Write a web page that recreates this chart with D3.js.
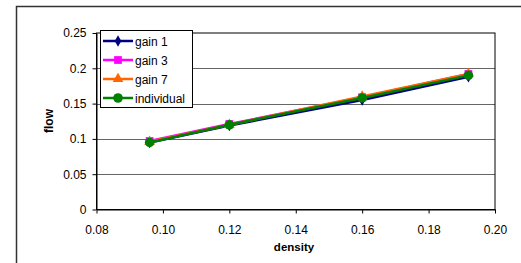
<!DOCTYPE html>
<html>
<head>
<meta charset="utf-8">
<script src="https://cdn.jsdelivr.net/npm/d3@7"></script>
<style>
  body { margin: 0; background: #fff; }
  svg { display: block; font-family: Arial, "Liberation Sans", sans-serif; }
</style>
</head>
<body>
<svg width="521" height="263"></svg>
<script>
// chart values
var density = [0.096, 0.12, 0.16, 0.192];
var gain1 = [0.095, 0.119, 0.155, 0.188];
var gain3 = [0.097, 0.121, 0.159, 0.192];
var gain7 = [0.096, 0.120, 0.160, 0.192];
var individual = [0.095, 0.120, 0.158, 0.190];
var seriesNames = ["gain 1", "gain 3", "gain 7", "individual"];
var xTicks = [0.08, 0.10, 0.12, 0.14, 0.16, 0.18, 0.20];
var yTicks = [0, 0.05, 0.1, 0.15, 0.2, 0.25];

var series = [
  { name: seriesNames[0], values: gain1, color: "#000080", symbol: d3.symbolDiamond, size: 38 },
  { name: seriesNames[1], values: gain3, color: "#FF00FF", symbol: d3.symbolSquare, size: 60 },
  { name: seriesNames[2], values: gain7, color: "#FF6600", symbol: d3.symbolTriangle, size: 50 },
  { name: seriesNames[3], values: individual, color: "#008000", symbol: d3.symbolCircle, size: 72 }
];

var svg = d3.select("svg");
var margin = { left: 96.5, top: 33, right: 495, bottom: 209.5 };

// outer chart frame (clipped by window on right/bottom)
svg.append("rect")
  .attr("x", 16.5).attr("y", 6.5)
  .attr("width", 540).attr("height", 300)
  .attr("fill", "none").attr("stroke", "#333").attr("stroke-width", 1.5);

var x = d3.scaleLinear().domain([0.08, 0.20]).range([margin.left, margin.right]);
var y = d3.scaleLinear().domain([0, 0.25]).range([margin.bottom, margin.top]);

// gridlines
svg.append("g").selectAll("line")
  .data(yTicks.slice(1, -1))
  .enter().append("line")
  .attr("x1", margin.left).attr("x2", margin.right)
  .attr("y1", function (d) { return Math.round(y(d)) + 0.5; })
  .attr("y2", function (d) { return Math.round(y(d)) + 0.5; })
  .attr("stroke", "#666").attr("stroke-width", 1);

// plot frame
svg.append("rect")
  .attr("x", margin.left).attr("y", margin.top)
  .attr("width", margin.right - margin.left).attr("height", margin.bottom - margin.top)
  .attr("fill", "none").attr("stroke", "#000").attr("stroke-width", 1);

// axes
var xAxis = svg.append("g")
  .attr("transform", "translate(0," + margin.bottom + ")")
  .call(d3.axisBottom(x).tickValues(xTicks).tickFormat(d3.format(".2f")).tickSizeInner(4).tickSizeOuter(0).tickPadding(12));
var yAxis = svg.append("g")
  .attr("transform", "translate(" + margin.left + ",0)")
  .call(d3.axisLeft(y).tickValues(yTicks).tickFormat(function (d) { return d3.format("")(d); }).tickSizeInner(4).tickSizeOuter(0).tickPadding(6));
[xAxis, yAxis].forEach(function (a) {
  a.select(".domain").attr("stroke", "#000");
  a.selectAll(".tick line").attr("stroke", "#000");
  a.selectAll("text").attr("font-size", 12).attr("fill", "#000").attr("font-family", "Arial, 'Liberation Sans', sans-serif");
});

// axis titles
svg.append("text")
  .attr("x", 294).attr("y", 251)
  .attr("text-anchor", "middle")
  .attr("font-size", 11.5).attr("font-weight", "bold")
  .text("density");
svg.append("text")
  .attr("transform", "translate(53,121) rotate(-90)")
  .attr("text-anchor", "middle")
  .attr("font-size", 12).attr("font-weight", "bold")
  .text("flow");

// lines and markers
var line = d3.line()
  .x(function (d, i) { return x(density[i]); })
  .y(function (d) { return y(d); });

series.forEach(function (s) {
  svg.append("path")
    .datum(s.values)
    .attr("d", line)
    .attr("fill", "none")
    .attr("stroke", s.color)
    .attr("stroke-width", 2.5);
  svg.selectAll(null)
    .data(s.values)
    .enter().append("path")
    .attr("d", d3.symbol().type(s.symbol).size(s.size))
    .attr("transform", function (d, i) { return "translate(" + x(density[i]) + "," + y(d) + ")"; })
    .attr("fill", s.color);
});

// legend
var legend = svg.append("g");
legend.append("rect")
  .attr("x", 100.5).attr("y", 30.5)
  .attr("width", 92).attr("height", 77)
  .attr("fill", "#fff").attr("stroke", "#000").attr("stroke-width", 1);
series.forEach(function (s, i) {
  var ly = 41 + i * 19;
  legend.append("line")
    .attr("x1", 103).attr("x2", 133)
    .attr("y1", ly).attr("y2", ly)
    .attr("stroke", s.color).attr("stroke-width", 2.5);
  legend.append("path")
    .attr("d", d3.symbol().type(s.symbol).size(s.size))
    .attr("transform", "translate(118," + ly + ")")
    .attr("fill", s.color);
  legend.append("text")
    .attr("x", 135).attr("y", ly + 4.5)
    .attr("font-size", 12)
    .text(s.name);
});
</script>
</body>
</html>
